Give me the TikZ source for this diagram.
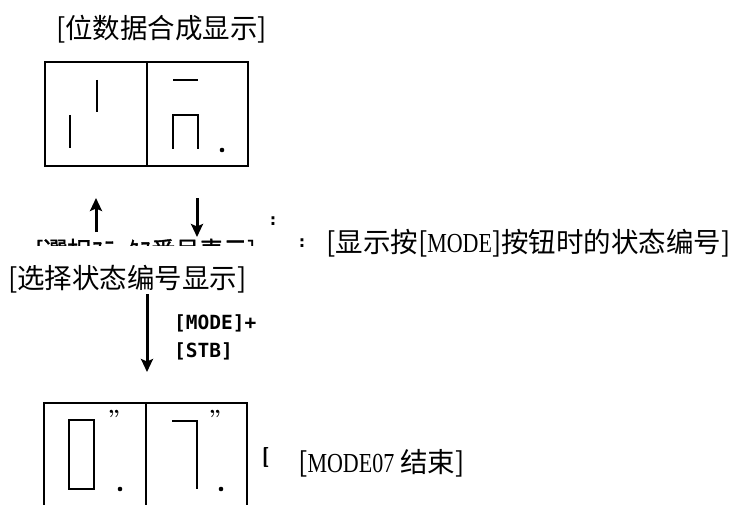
\documentclass[tikz,border=0pt]{standalone}
\usepackage{fontspec}
\usepackage{tikz}
\usetikzlibrary{arrows.meta}
\newfontfamily\cjk{Noto Sans CJK SC}
\newfontfamily\jpold{Noto Sans CJK JP}[FakeBold=1.5]
\newfontfamily\latfont{Liberation Serif}[FakeStretch=0.8]
\newfontfamily\keyfont{DejaVu Sans Mono}
\newfontfamily\markfont{DejaVu Sans}
\newcommand\latw[1]{{\latfont #1}}
\tikzset
{
    cjktext/.style = {font=\cjk\fontsize{27.5}{30}\selectfont, inner sep=0pt, anchor=base west},
    keytext/.style = {font=\keyfont\bfseries\fontsize{19.5}{22}\selectfont, inner sep=0pt, anchor=base west},
    remnant/.style = {font=\jpold\fontsize{24}{26}\selectfont, inner sep=0pt, anchor=base west},
    colonmark/.style = {font=\markfont\bfseries\fontsize{16}{18}\selectfont, inner sep=0pt, anchor=base},
    quotemark/.style = {font=\bfseries\fontsize{22}{24}\selectfont, inner sep=0pt, anchor=base},
    panel/.style = {line width=1.6pt},
    digitseg/.style = {line width=1.6pt},
    decpoint/.style = {circle, fill=black, inner sep=0pt, minimum size=4.6pt},
    flowarrow/.style = {line width=3pt, -{Stealth[length=13pt, width=12pt, inset=2.5pt]}}
}
\begin{document}
\begin{tikzpicture}[x=1pt, y=-1pt]
\useasboundingbox (0,0) rectangle (743,505);
% upper display
\node[cjktext] (mergetitle) at (56,39) {[位数据合成显示]};
\draw[panel] (45,62) rectangle (248,166);
\draw[panel] (147,62) -- (147,166);
\draw[digitseg] (97,80) -- (97,112);
\draw[digitseg] (70,115) -- (70,148);
\draw[digitseg] (173,80) -- (198,80);
\draw[digitseg] (173,149) -- (173,115) -- (198,115) -- (198,149);
\node[decpoint] (mergedot) at (222,150) {};
% toggle arrows
\coordinate (backtail) at (96,232);
\coordinate (backtip) at (96,198);
\coordinate (fwdtail) at (197,198);
\coordinate (fwdtip) at (197,237);
\draw[flowarrow] (backtail) -- (backtip);
\draw[flowarrow] (fwdtail) -- (fwdtip);
\begin{scope}
\clip (30,236) rectangle (260,245);
\node[remnant] (oldlabel) at (35,259) {[選択ｽﾃｰﾀｽ番号表示]};
\end{scope}
\node[colonmark] (oldcolon) at (273,225) {:};
\node[colonmark] (notecolon) at (302,247) {:};
\node[cjktext] (modenote) at (326,252) {[显示按[\latw{MODE}]按钮时的状态编号]};
% state number display
\node[cjktext] (selecttitle) at (8,288) {[选择状态编号显示]};
\coordinate (confirmtail) at (147,294);
\coordinate (confirmtip) at (147,372);
\draw[flowarrow] (confirmtail) -- (confirmtip);
\node[keytext] (modekey) at (174,329) {[MODE]+};
\node[keytext] (stbkey) at (174,357) {[STB]};
% lower display
\draw[panel] (44,505) -- (44,403) -- (247,403) -- (247,505);
\draw[panel] (146,403) -- (146,505);
\draw[digitseg] (69,420) rectangle (94,489);
\draw[digitseg] (172,421) -- (197,421) -- (197,489);
\node[decpoint] (zerodot) at (120,489) {};
\node[decpoint] (sevendot) at (221,489) {};
\node[quotemark] (zeroquote) at (114,425) {''};
\node[quotemark] (sevenquote) at (215,425) {''};
\node[font=\sffamily\bfseries\fontsize{20}{22}\selectfont, inner sep=0pt, anchor=base west] (oldbracket) at (262,462) {[};
\node[cjktext] (endnote) at (298,472) {[\latw{MODE07} 结束]};
\end{tikzpicture}
\end{document}
